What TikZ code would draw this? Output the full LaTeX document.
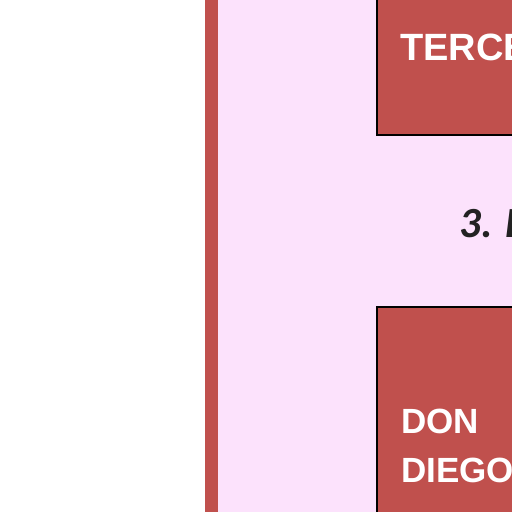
\documentclass[tikz,border=0pt]{standalone}
\usepackage{fontspec}
\setmainfont{Liberation Sans}
\newfontfamily\callfont{Carlito}
\definecolor{pinkbg}{HTML}{FCE2FC}
\definecolor{redbox}{HTML}{C0504D}
\definecolor{darktxt}{HTML}{222222}
\tikzset{
  actbox/.style={fill=redbox, draw=black, line width=2.5pt},
  boxtext/.style={text=white, font=\bfseries\fontsize{38}{46}\selectfont, anchor=base west, inner sep=0pt},
  boxtext2/.style={text=white, font=\bfseries\fontsize{35}{49}\selectfont, anchor=base west, inner sep=0pt, align=left},
  headtext/.style={text=darktxt, font=\callfont\bfseries\itshape\fontsize{43}{50}\selectfont, anchor=base west, inner sep=0pt}
}
\begin{document}
\begin{tikzpicture}[x=1pt,y=-1pt]
\useasboundingbox (0,0) rectangle (512,512);
\clip (0,0) rectangle (512,512);
\fill[white] (0,0) rectangle (512,512);
\fill[redbox] (205,-10) rectangle (218,530);
\fill[pinkbg] (218,-10) rectangle (530,530);
\draw[actbox] (377,-10) rectangle (540,135);
\node[boxtext] (t1) at (400,60) {TERCER ACTO};
\node[headtext] (h3) at (459,237) {3. DESENLACE};
\draw[actbox] (377,307) rectangle (540,540);
\node[boxtext2] (t2) at (401,482) {DON\\DIEGO};
\end{tikzpicture}
\end{document}
